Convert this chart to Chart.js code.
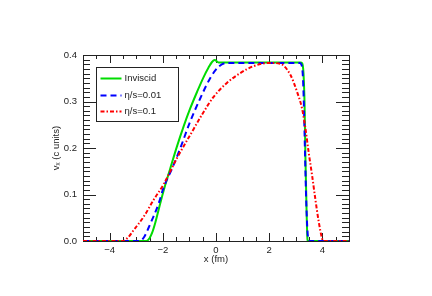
<!DOCTYPE html>
<html lang="en">
<head>
<meta charset="UTF-8">
<title>v_x profile</title>
<script src="https://cdn.jsdelivr.net/npm/chart.js"></script>
<style>
    html, body { margin: 0; padding: 0; background: #fff; }
    canvas { display: block; }
</style>
</head>
<body>
<canvas id="profileChart" width="432" height="296"></canvas>
<script>
    // x (fm) and v_x (c units)
    const inviscidX = [-5, -2.62, -2.5, -2.4, -2.28, -2.1, -1.97, -1.72, -1.47, -1.22, -0.97, -0.71, -0.47, -0.28, -0.15, -0.05, 0.1, 3.17, 3.24, 3.29, 3.33, 3.36, 3.40, 3.44, 3.46, 5];
    const inviscidV = [0, 0, 0.006, 0.018, 0.040, 0.080, 0.108, 0.156, 0.203, 0.246, 0.285, 0.321, 0.352, 0.373, 0.385, 0.389, 0.384, 0.384, 0.382, 0.36, 0.293, 0.185, 0.078, 0.003, 0, 0];

    const lowEtaX = [-5, -2.88, -2.72, -2.47, -2.16, -1.97, -1.65, -1.34, -0.97, -0.59, -0.22, 0.1, 0.41, 3.15, 3.22, 3.27, 3.31, 3.35, 3.39, 3.43, 3.47, 3.5, 5];
    const lowEtaV = [0, 0, 0.007, 0.037, 0.080, 0.115, 0.156, 0.200, 0.257, 0.307, 0.350, 0.375, 0.383, 0.383, 0.378, 0.35, 0.28, 0.18, 0.09, 0.03, 0.003, 0, 0];

    const highEtaX = [-5, -3.5, -3.3, -3.1, -2.72, -2.35, -1.97, -1.47, -0.97, -0.47, -0.09, 0.41, 0.91, 1.41, 2.0, 2.42, 2.79, 3.04, 3.23, 3.36, 3.48, 3.61, 3.73, 3.86, 3.98, 4.03, 5];
    const highEtaV = [0, 0, 0.008, 0.023, 0.052, 0.088, 0.122, 0.178, 0.228, 0.277, 0.310, 0.340, 0.361, 0.376, 0.383, 0.381, 0.358, 0.322, 0.286, 0.243, 0.192, 0.142, 0.092, 0.042, 0.007, 0, 0];

    const seriesLabels = ['Inviscid', 'η/s=0.01', 'η/s=0.1'];
    const xTickLabels = [-4, -2, 0, 2, 4];
    const yTickLabels = [0, 0.1, 0.2, 0.3, 0.4];

    const green = 'rgb(0,220,0)';
    const blue = 'rgb(0,0,255)';
    const red = 'rgb(255,0,0)';
    const ink = '#222';
    const labelFont = { family: 'Liberation Sans, Arial, sans-serif', size: 9.5 };

    function points(xs, vs) {
        return xs.map((x, i) => ({ x: x, y: vs[i] }));
    }

    // box with inward ticks on all four sides, under the curves
    const framePlugin = {
        id: 'frame',
        beforeDatasetsDraw(chart) {
            const { ctx, chartArea: a, scales: { x, y } } = chart;
            ctx.save();
            ctx.strokeStyle = ink;
            ctx.lineWidth = 1;
            ctx.beginPath();
            for (let i = -10; i <= 10; i++) {
                const px = Math.round(x.getPixelForValue(i / 2)) + 0.5;
                const len = i % 4 === 0 ? 8 : 4;
                ctx.moveTo(px, a.bottom); ctx.lineTo(px, a.bottom - len);
                ctx.moveTo(px, a.top); ctx.lineTo(px, a.top + len);
            }
            for (let i = 0; i <= 40; i++) {
                const py = Math.round(y.getPixelForValue(i / 100)) + 0.5;
                const len = i % 10 === 0 ? 13 : 7;
                ctx.moveTo(a.left, py); ctx.lineTo(a.left + len, py);
                ctx.moveTo(a.right, py); ctx.lineTo(a.right - len, py);
            }
            ctx.stroke();
            ctx.strokeRect(Math.round(a.left) + 0.5, Math.round(a.top) + 0.5,
                Math.round(a.right - a.left), Math.round(a.bottom - a.top));
            ctx.restore();
        },
        afterDatasetsDraw(chart) {
            const { ctx, chartArea: a } = chart;
            const bx = Math.round(a.left) + 13.5, by = Math.round(a.top) + 12.5;
            ctx.save();
            ctx.fillStyle = '#fff';
            ctx.fillRect(bx, by, 82, 54);
            ctx.strokeStyle = ink;
            ctx.lineWidth = 1;
            ctx.strokeRect(bx, by, 82, 54);
            const styles = chart.data.datasets;
            ctx.font = labelFont.size + 'px ' + labelFont.family;
            ctx.textBaseline = 'middle';
            [11, 28, 44].forEach((dy, i) => {
                const ds = styles[i];
                ctx.strokeStyle = ds.borderColor;
                ctx.lineWidth = ds.borderWidth;
                ctx.setLineDash(ds.borderDash || []);
                ctx.beginPath();
                ctx.moveTo(bx + 4, by + dy);
                ctx.lineTo(bx + 25, by + dy);
                ctx.stroke();
                ctx.setLineDash([]);
                ctx.fillStyle = ink;
                ctx.fillText(seriesLabels[i], bx + 28, by + dy);
            });
            ctx.restore();
        }
    };

    const ctx = document.getElementById('profileChart').getContext('2d');
    new Chart(ctx, {
        type: 'line',
        data: {
            datasets: [
                {
                    label: seriesLabels[0],
                    data: points(inviscidX, inviscidV),
                    borderColor: green,
                    borderWidth: 2,
                    order: 2
                },
                {
                    label: seriesLabels[1],
                    data: points(lowEtaX, lowEtaV),
                    borderColor: blue,
                    borderWidth: 2,
                    borderDash: [6, 4],
                    order: 1
                },
                {
                    label: seriesLabels[2],
                    data: points(highEtaX, highEtaV),
                    borderColor: red,
                    borderWidth: 2,
                    borderDash: [4, 2, 1.5, 2],
                    order: 0
                }
            ]
        },
        options: {
            responsive: false,
            animation: false,
            devicePixelRatio: 1,
            elements: {
                point: { radius: 0 },
                line: { cubicInterpolationMode: 'monotone', fill: false }
            },
            layout: { padding: { top: 55, right: 83, left: 0, bottom: 0 } },
            plugins: {
                legend: { display: false },
                tooltip: { enabled: false }
            },
            scales: {
                x: {
                    type: 'linear',
                    min: -5,
                    max: 5,
                    grid: { display: false, drawTicks: false },
                    border: { display: false },
                    afterBuildTicks: s => { s.ticks = xTickLabels.map(v => ({ value: v })); },
                    afterFit: s => { s.height = 55; },
                    ticks: {
                        font: labelFont,
                        color: ink,
                        padding: 4,
                        maxRotation: 0,
                        callback: v => (v < 0 ? '\u2212' + Math.abs(v) : String(v))
                    },
                    title: {
                        display: true,
                        text: 'x (fm)',
                        font: labelFont,
                        color: ink,
                        padding: { top: 0, bottom: 31 }
                    }
                },
                y: {
                    type: 'linear',
                    min: 0,
                    max: 0.4,
                    grid: { display: false, drawTicks: false },
                    border: { display: false },
                    afterBuildTicks: s => { s.ticks = yTickLabels.map(v => ({ value: v })); },
                    afterFit: s => { s.width = 83; },
                    ticks: {
                        font: labelFont,
                        color: ink,
                        padding: 6,
                        callback: v => v.toFixed(1)
                    },
                    title: {
                        display: true,
                        text: 'vₓ (c units)',
                        font: labelFont,
                        color: ink,
                        padding: { top: 51, bottom: 0 }
                    }
                }
            }
        },
        plugins: [framePlugin]
    });
</script>
</body>
</html>
